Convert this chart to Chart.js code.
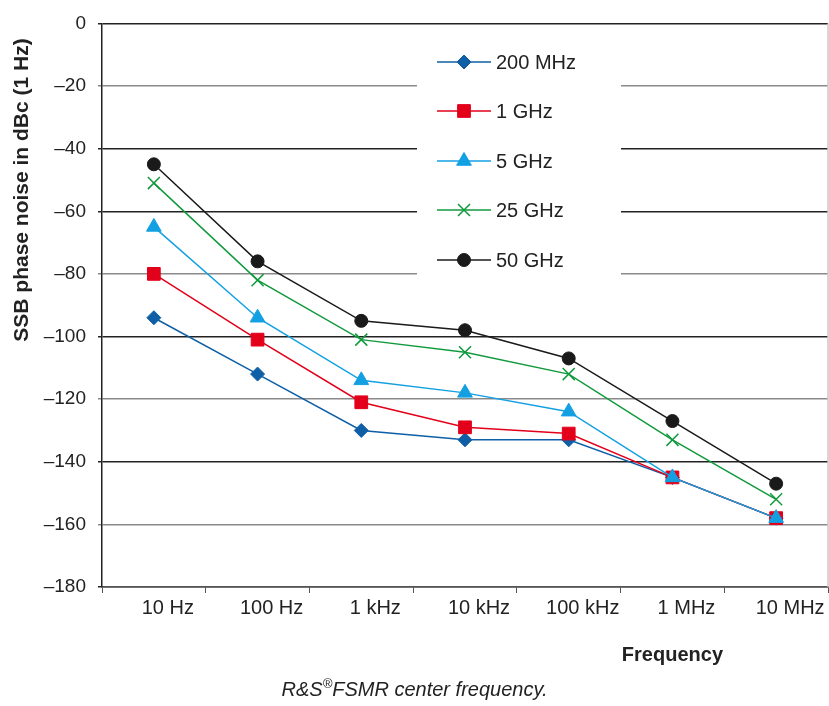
<!DOCTYPE html>
<html lang="en">

<head>
    <meta charset="UTF-8">
    <title>SSB phase noise</title>
    <script src="https://cdn.jsdelivr.net/npm/chart.js"></script>
    <style>
        body { margin: 0; background: #fff; }
        .wrap { position: relative; width: 829px; height: 706px; }
        .caption {
            position: absolute; left: 0; top: 676px; width: 829px; text-align: center;
            font: italic 20px "Liberation Sans", Arial, sans-serif; color: #222;
        }
        .caption sup { font-size: 13px; }
    </style>
</head>

<body>
    <div class="wrap">
        <canvas id="noise-chart"></canvas>
        <div class="caption">R&amp;S<sup>®</sup>FSMR center frequency.</div>
    </div>

    <script>
        // offsets from carrier
        const offsets = ['10 Hz', '100 Hz', '1 kHz', '10 kHz', '100 kHz', '1 MHz', '10 MHz'];
        const seriesNames = ['200 MHz', '1 GHz', '5 GHz', '25 GHz', '50 GHz'];

        // dBc (1 Hz)
        const noise200M = [-94, -112, -130, -133, -133, -145, -158];
        const noise1G = [-80, -101, -121, -129, -131, -145, -158];
        const noise5G = [-65, -94, -114, -118, -124, -145, -158];
        const noise25G = [-51, -82, -101, -105, -112, -133, -152];
        const noise50G = [-45, -76, -95, -98, -107, -127, -147];

        const yMin = -180;
        const yMax = 0;
        const yStep = 20;

        const FONT = '"Liberation Sans", Arial, sans-serif';

        function makeSet(label, data, color, style, radius, order) {
            return {
                label: label,
                data: data,
                borderColor: color,
                backgroundColor: color,
                borderWidth: 1.5,
                pointStyle: style,
                pointRadius: radius,
                pointHoverRadius: radius,
                pointBorderWidth: style === 'crossRot' ? 1.5 : 1,
                pointBorderColor: color,
                pointBackgroundColor: color,
                tension: 0,
                fill: false,
                order: order
            };
        }

        const datasets = [
            makeSet(seriesNames[0], noise200M, '#0e5fa6', 'rectRot', 7, 5),
            makeSet(seriesNames[1], noise1G, '#e3001b', 'rect', 9, 4),
            makeSet(seriesNames[2], noise5G, '#12a0e2', 'triangle', 8.5, 3),
            makeSet(seriesNames[3], noise25G, '#119a3d', 'crossRot', 8.5, 2),
            makeSet(seriesNames[4], noise50G, '#1a1a1a', 'circle', 6.5, 1)
        ];

        // legend sits inside the plot on a white patch
        const insideLegend = {
            id: 'insideLegend',
            beforeDatasetsDraw(chart) {
                const ctx = chart.ctx;
                ctx.save();
                ctx.fillStyle = '#fff';
                ctx.fillRect(417, 38, 204, 250);
                // light right frame line
                ctx.strokeStyle = '#c8c8c8';
                ctx.lineWidth = 1.5;
                ctx.beginPath();
                ctx.moveTo(chart.chartArea.right, chart.chartArea.top);
                ctx.lineTo(chart.chartArea.right, chart.chartArea.bottom);
                ctx.stroke();
                ctx.restore();
            },
            afterDatasetsDraw(chart) {
                const ctx = chart.ctx;
                const rowY = [62, 111, 161, 210, 260];
                ctx.save();
                chart.data.datasets.forEach((ds, i) => {
                    const y = rowY[i];
                    ctx.strokeStyle = ds.borderColor;
                    ctx.lineWidth = 1.5;
                    ctx.beginPath();
                    ctx.moveTo(437, y);
                    ctx.lineTo(491, y);
                    ctx.stroke();
                    ctx.fillStyle = ds.pointBackgroundColor;
                    ctx.lineWidth = ds.pointBorderWidth;
                    Chart.helpers.drawPoint(ctx, {
                        pointStyle: ds.pointStyle,
                        radius: ds.pointRadius,
                        rotation: 0,
                        borderWidth: ds.pointBorderWidth
                    }, 464, y);
                    ctx.fillStyle = '#222';
                    ctx.font = '20px ' + FONT;
                    ctx.textAlign = 'left';
                    ctx.textBaseline = 'middle';
                    ctx.fillText(ds.label, 496, y + 1);
                });
                ctx.restore();
            },
            afterDraw(chart) {
                const ctx = chart.ctx;
                const x = chart.scales.x.getPixelForValue(5);
                ctx.save();
                ctx.fillStyle = '#222';
                ctx.font = 'bold 20px ' + FONT;
                ctx.textAlign = 'center';
                ctx.textBaseline = 'middle';
                ctx.fillText('Frequency', x, 655);
                // y axis title
                ctx.translate(22, 190);
                ctx.rotate(-Math.PI / 2);
                ctx.font = 'bold 21px ' + FONT;
                ctx.fillText('SSB phase noise in dBc (1 Hz)', 0, 0);
                ctx.restore();
            }
        };

        const greyLines = [-20, -80, -120, -160];

        new Chart(document.getElementById('noise-chart').getContext('2d'), {
            type: 'line',
            data: { labels: offsets, datasets: datasets },
            options: {
                responsive: true,
                maintainAspectRatio: false,
                animation: false,
                layout: {
                    autoPadding: false,
                    padding: { top: 22, right: 1, bottom: 79, left: 0 }
                },
                plugins: {
                    legend: { display: false },
                    tooltip: { enabled: false }
                },
                scales: {
                    x: {
                        offset: true,
                        afterFit(scale) {
                            scale.height = 40;
                            scale.paddingLeft = 0;
                            scale.paddingRight = 0;
                        },
                        grid: {
                            offset: true,
                            drawOnChartArea: false,
                            drawTicks: true,
                            tickLength: 6,
                            color: '#555'
                        },
                        border: { display: true, color: '#555', width: 1.5 },
                        ticks: {
                            color: '#222',
                            font: { family: FONT, size: 20 },
                            padding: 3,
                            labelOffset: 14,
                            maxRotation: 0,
                            autoSkip: false
                        }
                    },
                    y: {
                        min: yMin,
                        max: yMax,
                        afterFit(scale) { scale.width = 102; },
                        grid: {
                            color: (c) => c.tick && greyLines.includes(c.tick.value) ? '#8a8a8a' : '#222',
                            lineWidth: 1.5,
                            tickLength: 4
                        },
                        border: { display: true, color: '#222', width: 1.5 },
                        ticks: {
                            stepSize: yStep,
                            color: '#222',
                            font: { family: FONT, size: 19 },
                            padding: 12,
                            callback: (v) => v < 0 ? '\u2013' + Math.abs(v) : String(v)
                        },
                        title: { display: false }
                    }
                }
            },
            plugins: [insideLegend]
        });
    </script>

</body>

</html>
